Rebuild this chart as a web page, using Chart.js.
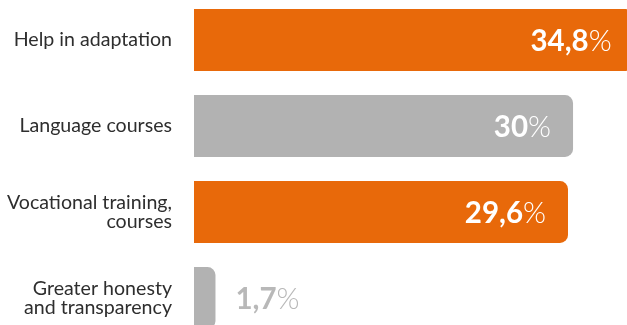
<!DOCTYPE html>
<html>
<head>
<meta charset="utf-8">
<script src="https://cdn.jsdelivr.net/npm/chart.js@4/dist/chart.umd.min.js"></script>
<style>
  html, body { margin: 0; padding: 0; background: #ffffff; overflow: hidden; }
  #wrap { position: relative; width: 627px; height: 325px; overflow: hidden; }
  #chart { position: absolute; left: 0; top: -3px; }
</style>
</head>
<body>
<div id="wrap"><canvas id="chart" width="627" height="344"></canvas></div>
<script>
// Answer categories (multi-line where the label wraps)
const categories = [
  ["Help in adaptation"],
  ["Language courses"],
  ["Vocational training,", "courses"],
  ["Greater honesty", "and transparency"]
];
// Share of respondents, percent
const shares = [34.8, 30, 29.6, 1.7];
// Bar fill per category
const barColors = ["#E8690A", "#B2B2B2", "#E8690A", "#B2B2B2"];

const INSIDE_TEXT = "#ffffff";
const OUTSIDE_TEXT = "#B8B8B8";

function fmt(v) {
  return String(v).replace(".", ",");
}

// Writes "34,8%" with a bold number and a light percent sign
const valueLabels = {
  id: "valueLabels",
  afterDatasetsDraw(chart) {
    const ctx = chart.ctx;
    const meta = chart.getDatasetMeta(0);
    const xScale = chart.scales.x;
    const numFont = "bold 29.5px Lato";
    const pctFont = "300 29.5px 'Lato Light', Lato";
    ctx.save();
    meta.data.forEach((bar, i) => {
      const v = shares[i];
      const endX = xScale.getPixelForValue(v);
      const num = fmt(v);
      ctx.font = numFont;
      const wNum = ctx.measureText(num).width;
      ctx.font = pctFont;
      const wPct = ctx.measureText("%").width;
      const total = wNum + wPct;
      const inside = (endX - xScale.left) > total + 40;
      const startX = inside ? endX - 22 - total : endX + 20;
      const baseY = bar.y + 11;
      ctx.textBaseline = "alphabetic";
      ctx.textAlign = "left";
      ctx.fillStyle = inside ? INSIDE_TEXT : OUTSIDE_TEXT;
      ctx.font = numFont;
      ctx.fillText(num, startX, baseY);
      ctx.font = pctFont;
      ctx.fillText("%", startX + wNum, baseY);
    });
    ctx.restore();
  }
};

new Chart(document.getElementById("chart"), {
  type: "bar",
  data: {
    labels: categories,
    datasets: [{
      data: shares,
      backgroundColor: barColors,
      borderRadius: 8,
      borderSkipped: "start",
      barPercentage: 0.72,
      categoryPercentage: 1
    }]
  },
  options: {
    indexAxis: "y",
    responsive: false,
    animation: false,
    events: [],
    layout: { padding: 0 },
    plugins: {
      legend: { display: false },
      tooltip: { enabled: false }
    },
    scales: {
      x: {
        display: false,
        min: 0,
        max: 34.27
      },
      y: {
        grid: { display: false, drawTicks: false },
        border: { display: false },
        ticks: {
          color: "#2e2e2e",
          padding: 22,
          font: { family: "Lato", size: 19.6, lineHeight: 1.0 }
        },
        afterFit(scale) {
          scale.width = 194;
          // keep the bars spread over the full canvas height
          scale.paddingTop = 0;
          scale.paddingBottom = 0;
        }
      }
    }
  },
  plugins: [valueLabels]
});
</script>
</body>
</html>
